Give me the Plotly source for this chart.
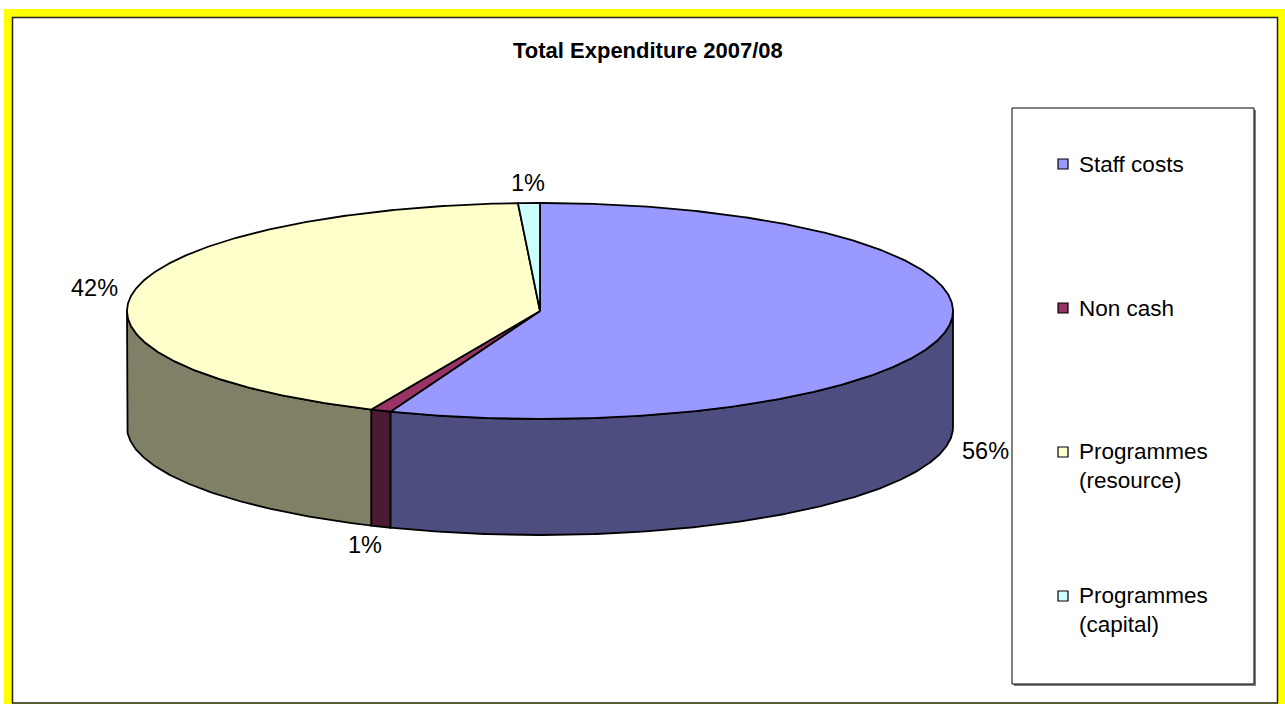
import numpy as np
import plotly.graph_objects as go

# ---- data ----
categories = ["Staff costs", "Non cash", "Programmes (resource)", "Programmes (capital)"]
legend_labels = ["Staff costs", "Non cash", "Programmes<br>(resource)", "Programmes<br>(capital)"]
values = [55.9, 0.8, 42.45, 0.85]
title_text = "Total Expenditure 2007/08"

# ---- styles ----
top_colors = ["#9999FF", "#993366", "#FFFFCC", "#CCFFFF"]
side_colors = ["#4D4D80", "#4D1A33", "#808066", "#668080"]
FONT = "Arial, Liberation Sans, sans-serif"

W, H = 1285, 704
CX, CY, RX, RY, DEPTH = 540, 311, 413, 108, 116


def pt(theta_deg, dy=0.0, rx=RX, ry=RY):
    t = np.radians(theta_deg)
    return CX + rx * np.sin(t), CY - ry * np.cos(t) + dy


def arc(a, b, dy=0.0):
    n = max(2, int(abs(b - a) / 0.5) + 1)
    th = np.linspace(a, b, n)
    x, y = pt(th, dy)
    return list(x), list(y)


total = sum(values)
fracs = [v / total for v in values]
starts = np.concatenate([[0], np.cumsum(fracs)[:-1]]) * 360
ends = np.cumsum(fracs) * 360

fig = go.Figure()

# side walls (visible front half: 90..270 deg clockwise from top)
for i in range(len(values)):
    lo, hi = max(starts[i], 90), min(ends[i], 270)
    if hi <= lo:
        continue
    tx, ty = arc(lo, hi)
    bx, by = arc(hi, lo, DEPTH)
    xs = tx + bx + [tx[0]]
    ys = ty + by + [ty[0]]
    fig.add_trace(go.Scatter(x=xs, y=ys, mode="lines", fill="toself",
                             fillcolor=side_colors[i],
                             line=dict(color="black", width=1.8),
                             hoverinfo="skip", showlegend=False))

# top faces
for i in range(len(values)):
    ax, ay = arc(starts[i], ends[i])
    xs = [CX] + ax + [CX]
    ys = [CY] + ay + [CY]
    fig.add_trace(go.Scatter(x=xs, y=ys, mode="lines", fill="toself",
                             fillcolor=top_colors[i],
                             line=dict(color="black", width=1.8),
                             hoverinfo="skip", showlegend=False,
                             name=categories[i]))

annotations = []
# percentage labels
for i in range(len(values)):
    mid = (starts[i] + ends[i]) / 2
    front = np.cos(np.radians(mid)) < 0
    lx, ly = pt(mid, DEPTH if front else 0, rx=RX + 40, ry=RY + 20)
    annotations.append(dict(x=lx, y=ly, xref="x", yref="y", showarrow=False,
                            text=f"{fracs[i] * 100:.0f}%",
                            font=dict(family=FONT, size=23.5, color="black"),
                            xanchor="center", yanchor="middle"))

# title
annotations.append(dict(x=648, y=50, xref="x", yref="y", showarrow=False,
                        text=f"<b>{title_text}</b>",
                        font=dict(family=FONT, size=22, color="black"),
                        xanchor="center", yanchor="middle"))

shapes = [
    # yellow outer frame
    dict(type="rect", x0=4, y0=9, x1=1295, y1=720, xref="x", yref="y",
         fillcolor="#FFFF00", line=dict(width=0), layer="below"),
    dict(type="rect", x0=12.5, y0=17.5, x1=1277.5, y1=703, xref="x", yref="y",
         fillcolor="white", line=dict(color="#222222", width=1.5), layer="below"),
    # legend box with shadow
    dict(type="rect", x0=1014, y0=110, x1=1256, y1=686, xref="x", yref="y",
         fillcolor="#808080", line=dict(width=0), layer="below"),
    dict(type="rect", x0=1012, y0=108, x1=1254, y1=684, xref="x", yref="y",
         fillcolor="white", line=dict(color="black", width=1), layer="below"),
]

LEG_Y0, LEG_STEP = 164, 144
for i, lab in enumerate(legend_labels):
    yc = LEG_Y0 + i * LEG_STEP
    shapes.append(dict(type="rect", x0=1058, y0=yc - 5, x1=1068, y1=yc + 5,
                       xref="x", yref="y", fillcolor=top_colors[i],
                       line=dict(color="black", width=1.2)))
    nlines = lab.count("<br>") + 1
    annotations.append(dict(x=1077, y=yc + (nlines - 1) * 14, xref="x", yref="y",
                            showarrow=False, text=lab, align="left",
                            font=dict(family=FONT, size=22.5, color="black"),
                            xanchor="left", yanchor="middle"))

fig.update_layout(
    width=W, height=H,
    margin=dict(l=0, r=0, t=0, b=0),
    paper_bgcolor="white", plot_bgcolor="rgba(0,0,0,0)",
    xaxis=dict(range=[0, W], visible=False, fixedrange=True),
    yaxis=dict(range=[H, 0], visible=False, fixedrange=True),
    shapes=shapes, annotations=annotations, showlegend=False,
)

fig.write_html("out.html")
